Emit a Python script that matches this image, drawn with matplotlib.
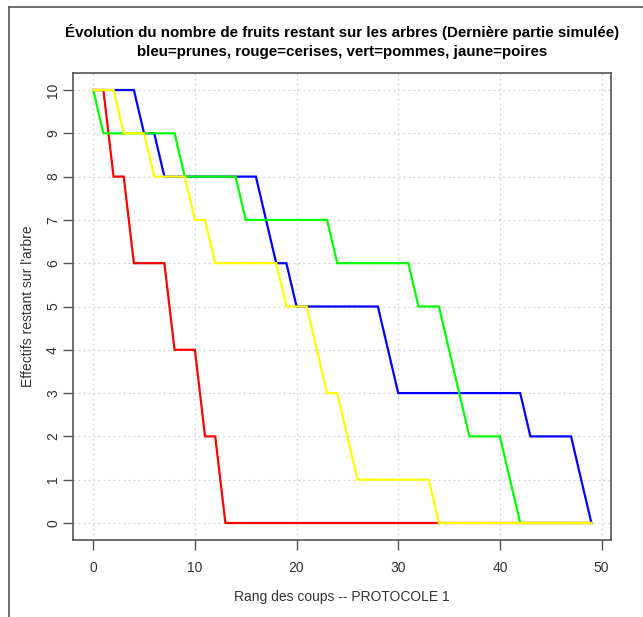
import matplotlib
matplotlib.use("Agg")
import matplotlib.pyplot as plt
from matplotlib.lines import Line2D

plt.rcParams['font.family'] = ['Liberation Sans', 'DejaVu Sans']

coups = list(range(50))
prunes = [10, 10, 10, 10, 10, 9, 9, 8, 8, 8,
          8, 8, 8, 8, 8, 8, 8, 7, 6, 6,
          5, 5, 5, 5, 5, 5, 5, 5, 5, 4,
          3, 3, 3, 3, 3, 3, 3, 3, 3, 3,
          3, 3, 3, 2, 2, 2, 2, 2, 1, 0]
cerises = [10, 10, 8, 8, 6, 6, 6, 6, 4, 4,
           4, 2, 2, 0, 0, 0, 0, 0, 0, 0,
           0, 0, 0, 0, 0, 0, 0, 0, 0, 0,
           0, 0, 0, 0, 0, 0, 0, 0, 0, 0,
           0, 0, 0, 0, 0, 0, 0, 0, 0, 0]
pommes = [10, 9, 9, 9, 9, 9, 9, 9, 9, 8,
          8, 8, 8, 8, 8, 7, 7, 7, 7, 7,
          7, 7, 7, 7, 6, 6, 6, 6, 6, 6,
          6, 6, 5, 5, 5, 4, 3, 2, 2, 2,
          2, 1, 0, 0, 0, 0, 0, 0, 0, 0]
poires = [10, 10, 10, 9, 9, 9, 8, 8, 8, 8,
          7, 7, 6, 6, 6, 6, 6, 6, 6, 5,
          5, 5, 4, 3, 3, 2, 1, 1, 1, 1,
          1, 1, 1, 1, 0, 0, 0, 0, 0, 0,
          0, 0, 0, 0, 0, 0, 0, 0, 0, 0]

x_ticks = [0, 10, 20, 30, 40, 50]
y_ticks = list(range(11))

W, H = 643, 617
fig = plt.figure(figsize=(W / 100, H / 100), dpi=100)
ax = fig.add_axes([73.3 / W, 1 - 540.3 / H, (611.3 - 73.3) / W, (540.3 - 72.7) / H])

# grid
for xv in x_ticks:
    ax.axvline(xv, color='#d3d3d3', lw=0.9, ls=(0, (1.5, 2.5)), zorder=0)
for yv in y_ticks:
    ax.axhline(yv, color='#d3d3d3', lw=0.9, ls=(0, (1.5, 2.5)), zorder=0)

for serie, col in [(prunes, '#0000FF'), (cerises, '#FF0000'),
                   (pommes, '#00FF00'), (poires, '#FFFF00')]:
    ax.plot(coups, serie, color=col, lw=1.6, solid_joinstyle='miter', zorder=2)

ax.set_xlim(-1.96, 50.96)
ax.set_ylim(-0.4, 10.4)
ax.set_xticks(x_ticks)
ax.set_yticks(y_ticks)
ax.set_yticklabels([str(v) for v in y_ticks], rotation=90, va='center')
ax.tick_params(direction='out', length=7, width=1, color='#555555',
               labelcolor='#333333', labelsize=10)
ax.tick_params(axis='x', pad=8)
ax.tick_params(axis='y', pad=2.5)
for sp in ax.spines.values():
    sp.set_color('#555555')
    sp.set_linewidth(1.2)

ax.set_xlabel('Rang des coups -- PROTOCOLE 1', fontsize=10, color='#333333', labelpad=11)
ax.set_ylabel("Effectifs restant sur l'arbre", fontsize=10, color='#333333', labelpad=8)

fig.text(342 / W, 1 - 32 / H, "Évolution du nombre de fruits restant sur les arbres (Dernière partie simulée)",
         ha='center', va='center', fontsize=10.9, fontweight='bold', color='black')
fig.text(342 / W, 1 - 52 / H, "bleu=prunes, rouge=cerises, vert=pommes, jaune=poires",
         ha='center', va='center', fontsize=10.9, fontweight='bold', color='black')

# window frame lines
fig.add_artist(Line2D([9 / W, 9 / W], [0, 1 - 7 / H], transform=fig.transFigure, color='#555555', lw=1.2))
fig.add_artist(Line2D([9 / W, 1], [1 - 7 / H, 1 - 7 / H], transform=fig.transFigure, color='#555555', lw=1.2))

fig.savefig('out.png', dpi=100)
